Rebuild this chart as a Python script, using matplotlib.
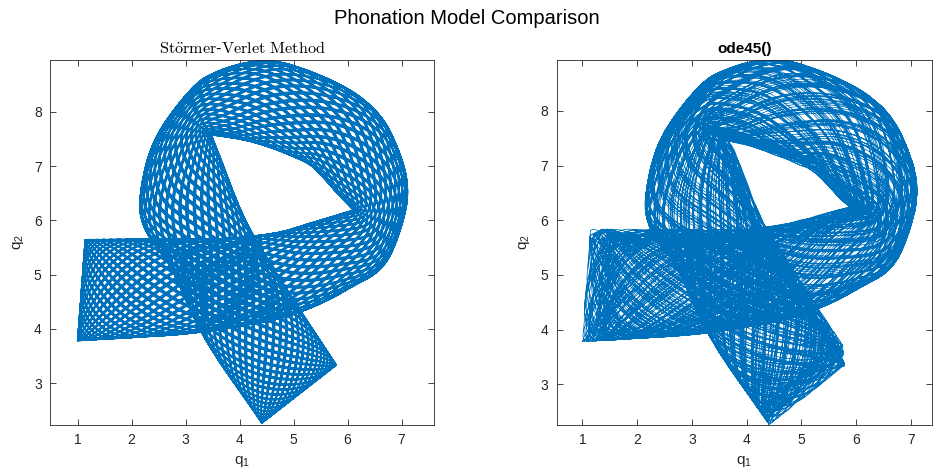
import numpy as np
import matplotlib
matplotlib.use("Agg")
import matplotlib.pyplot as plt

# ---------------- data ----------------
# The ribbon is described by matching cross-sections: a point on its inner
# edge and a point on its outer edge, from the left end to the lower-right end.
inner_q1 = [1.135, 2.10, 3.13, 4.00, 4.70, 5.30, 6.10, 6.10, 5.80, 5.35, 4.99, 4.37, 3.95, 3.48, 3.48, 3.62, 4.16, 4.74, 5.796]
inner_q2 = [5.650, 5.655, 5.66, 5.69, 5.78, 5.95, 6.19, 6.19, 6.50, 6.98, 7.17, 7.40, 7.50, 7.57, 7.57, 7.22, 5.91, 4.95, 3.335]
outer_q1 = [0.993, 2.05, 3.13, 4.20, 4.99, 5.99, 6.84, 7.10, 6.84, 6.23, 5.30, 4.37, 3.60, 3.14, 2.52, 2.15, 2.79, 3.265, 4.41]
outer_q2 = [3.780, 3.84, 3.92, 4.08, 4.26, 4.72, 5.45, 6.30, 7.54, 8.28, 8.75, 8.94, 8.75, 8.46, 7.66, 6.40, 5.00, 3.98, 2.26]

# oscillation counts read from the hatching
sv_sweeps = 210             # end-to-end sweeps along the ribbon
sv_half_waves = 132 / 35    # transverse half waves per sweep
sv_detune = 6.0e-5
end_sharpness = 0.75        # how quickly a sweep turns at the ends

ode_sweeps = 210
ode_half_waves = 3.7705
ode_end_shift = 0.40        # spread of the left end (along ribbon)
ode_b_shift = 0.30          # spread of the lower-right end
ode_side_spread = 0.10      # spread of the upper band edge (fraction of width)
ode_end_loop = 0.05         # size of the small loops at the ends

x_ticks = [1, 2, 3, 4, 5, 6, 7]
y_ticks = [3, 4, 5, 6, 7, 8]

BLUE = "#0072BD"
AX_COL = "#262626"

plt.rcParams["font.family"] = ["Liberation Sans", "DejaVu Sans"]
plt.rcParams["mathtext.default"] = "regular"
plt.rcParams["mathtext.fontset"] = "cm"

IN = np.column_stack([inner_q1, inner_q2])
OUT = np.column_stack([outer_q1, outer_q2])
MID = (IN + OUT) / 2
knots = np.r_[0, np.cumsum(np.linalg.norm(np.diff(MID, axis=0), axis=1))]
S = knots[-1]


def hermite(vals, t):
    vals = np.asarray(vals, float)
    m = np.gradient(vals, knots)
    k = np.clip(np.searchsorted(knots, t, side="right") - 1, 0, len(knots) - 2)
    t0 = knots[k]
    h = knots[k + 1] - t0
    u = np.clip((t - t0) / h, 0, 1)
    h00 = 2 * u**3 - 3 * u**2 + 1
    h10 = u**3 - 2 * u**2 + u
    h01 = -2 * u**3 + 3 * u**2
    h11 = u**3 - u**2
    return h00 * vals[k] + h10 * h * m[k] + h01 * vals[k + 1] + h11 * h * m[k + 1]


def ribbon(s, v):
    s = np.clip(s, 0, S)
    a = (1 - v) / 2
    b = (1 + v) / 2
    x = a * hermite(outer_q1, s) + b * hermite(inner_q1, s)
    y = a * hermite(outer_q2, s) + b * hermite(inner_q2, s)
    return x, y


def sweep(theta, rho=end_sharpness):
    return (1 - np.arcsin(rho * np.cos(theta)) / np.arcsin(rho)) / 2


# Stormer-Verlet trajectory (regular, energy kept)
th = np.linspace(0, np.pi * sv_sweeps, 170 * sv_sweeps)
s_sv = S * sweep(th)
v_sv = -np.cos((sv_half_waves + sv_detune) * th)
x_sv, y_sv = ribbon(s_sv, v_sv)

# ode45 trajectory (slowly drifting)
th2 = np.linspace(0, np.pi * ode_sweeps, 110 * ode_sweeps)
slowA = (1 - np.cos(th2 * 2.3 / ode_sweeps * np.pi)) / 2
slowB = (1 - np.cos(th2 * 3.1 / ode_sweeps * np.pi + 0.9)) / 2
u2 = sweep(th2)
s_lo = ode_end_shift * slowA
s_hi = S - ode_b_shift * slowB
phase2 = ode_half_waves * th2
s_od = s_lo + (s_hi - s_lo) * u2 + ode_end_loop * np.sin(phase2 + 0.6) * slowB
v_od = -(1 + ode_side_spread * slowB) * np.cos(phase2) + ode_side_spread * slowB
x_od, y_od = ribbon(s_od, v_od)

W, Hh = 933, 471
fig = plt.figure(figsize=(W / 100, Hh / 100), dpi=100)


def px_axes(x0, x1, y0, y1):
    return fig.add_axes([x0 / W, 1 - y1 / Hh, (x1 - x0) / W, (y1 - y0) / Hh])


ax1 = px_axes(50, 434, 60, 425)
ax2 = px_axes(556.7, 931.7, 60, 425)

ax1.plot(x_sv, y_sv, color=BLUE, lw=0.55)
ax2.plot(x_od, y_od, color=BLUE, lw=0.55)

ax1.set_xlim(0.487, 7.6)
ax1.set_ylim(2.232, 8.952)
ax2.set_xlim(0.53, 7.38)
ax2.set_ylim(2.256, 8.93)

for ax in (ax1, ax2):
    ax.set_xticks(x_ticks)
    ax.set_yticks(y_ticks)
    ax.tick_params(direction="in", length=4, width=0.6, colors=AX_COL,
                   labelsize=10, top=True, right=True, pad=6)
    for sp in ax.spines.values():
        sp.set_color(AX_COL)
        sp.set_linewidth(0.6)
    ax.set_xlabel(r"q$_1$", fontsize=11, color=AX_COL, labelpad=5)
    ax.set_ylabel(r"q$_2$", fontsize=11, color=AX_COL, labelpad=6)

ax1.set_title(r"$\mathrm{St\ddot{o}rmer}$-$\mathrm{Verlet\ Method}$", fontsize=11.7, pad=5)
ax2.set_title("ode45()", fontsize=11, fontweight="bold", pad=5)
fig.suptitle("Phonation Model Comparison", fontsize=14.5, y=1 - 18 / Hh, va="center")

fig.savefig("out.png", dpi=100)
